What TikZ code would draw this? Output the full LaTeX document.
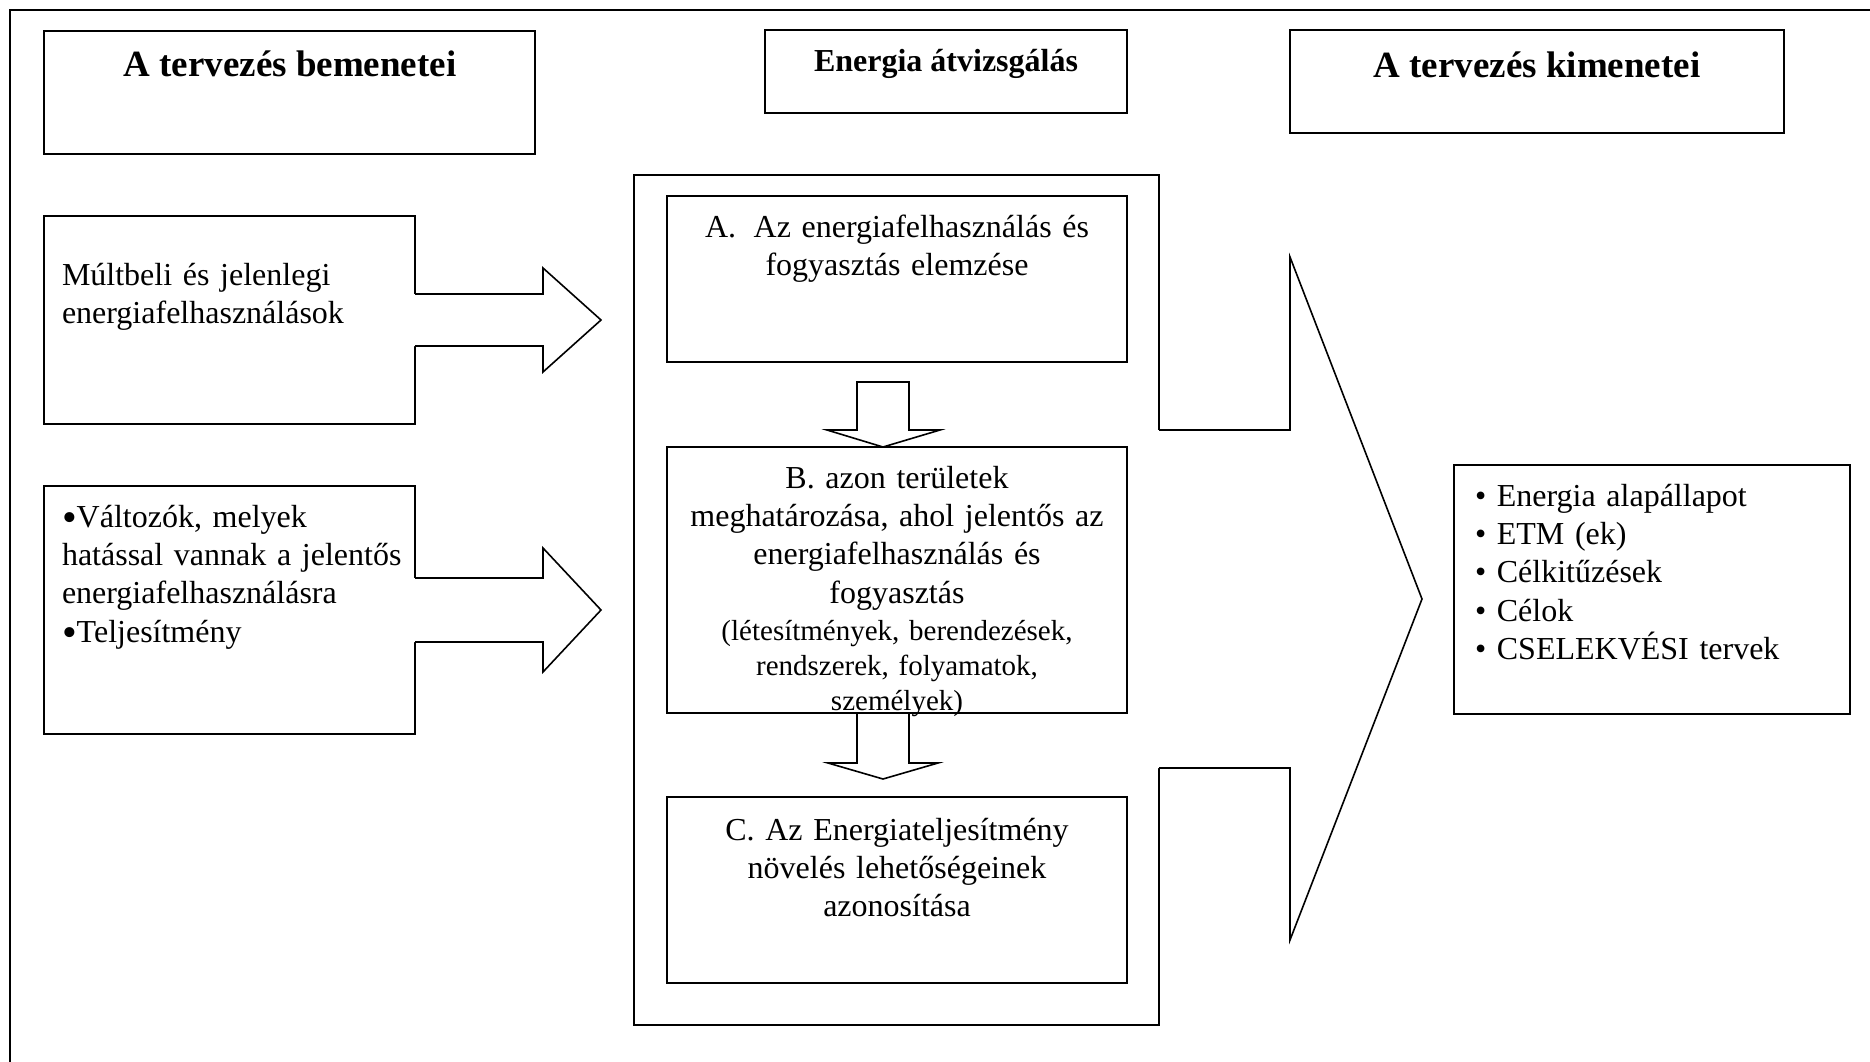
\documentclass[tikz,border=0pt]{standalone}
\usepackage{fontspec}
\setmainfont{Liberation Serif}
\usetikzlibrary{fit}
\newcommand\bodyf{\fontsize{16pt}{19.2pt}\selectfont}
\newcommand\titlef{\fontsize{18.5pt}{22pt}\selectfont\bfseries}
\newcommand\midtitlef{\fontsize{16pt}{19.2pt}\selectfont\bfseries}
\newcommand\smallf{\fontsize{14.5pt}{17.5pt}\selectfont}
\newcommand\bigbul{\raisebox{-2.2pt}{\fontsize{21pt}{19.2pt}\selectfont•}}
\begin{document}
\begin{tikzpicture}[x=0.5pt,y=-0.5pt,
  boxst/.style={draw, line width=1.1pt, inner sep=0pt, outer sep=0pt},
  frameline/.style={draw, line width=1pt},
  arrowline/.style={draw, line width=0.8pt, line join=miter},
  txt/.style={inner sep=0pt, outer sep=0pt},
  paracenter/.style={txt, text width=#1, align=center, anchor=base},
  paraleft/.style={txt, text width=#1, align=left, anchor=base west}]
\useasboundingbox (0,0) rectangle (1870,1061);
% outer frame (right and bottom sides lie outside the picture)
\draw[frameline] (10,1080) -- (10,10) -- (1890,10);

% header boxes
\node[boxst, fit={(44,31) (535,154)}] (b1) {};
\node[boxst, fit={(765,30) (1127,113)}] (b2) {};
\node[boxst, fit={(1290,30) (1784,133)}] (b3) {};

% input boxes
\node[boxst, fit={(44,216) (415,424)}] (m1) {};
\node[boxst, fit={(44,486) (415,734)}] (m2) {};

% middle frame and steps
\node[boxst, fit={(634,175) (1159,1025)}] (mo) {};
\node[boxst, fit={(667,196) (1127,362)}] (bA) {};
\node[boxst, fit={(667,447) (1127,713)}] (bB) {};
\node[boxst, fit={(667,797) (1127,983)}] (bC) {};

% output box
\node[boxst, fit={(1454,465) (1850,714)}] (out) {};

% block arrow 1
\coordinate (tip1) at (601,320);
\fill[white] (410,294) -- (543,294) -- (543,268) -- (tip1) -- (543,372) -- (543,346) -- (410,346) -- cycle;
\draw[arrowline] (m1.east |- 0,294) -- (543,294) -- (543,268) -- (tip1) -- (543,372) -- (543,346) -- (m1.east |- 0,346);

% block arrow 2
\coordinate (tip2) at (601,610);
\fill[white] (410,578) -- (543,578) -- (543,548) -- (tip2) -- (543,672) -- (543,642) -- (410,642) -- cycle;
\draw[arrowline] (m2.east |- 0,578) -- (543,578) -- (543,548) -- (tip2) -- (543,672) -- (543,642) -- (m2.east |- 0,642);

% small down arrow A -> B
\draw[arrowline] (857,382) -- (909,382) -- (909,430) -- (940,430) -- (bB.north -| 883,0) -- (827,430) -- (857,430) -- cycle;

% small down arrow B -> C
\coordinate (tip4) at (883,779);
\draw[arrowline] (bB.south -| 857,0) -- (857,763) -- (828,763) -- (tip4) -- (938,763) -- (909,763) -- (bB.south -| 909,0);

% big block arrow to outputs
\coordinate (tip3) at (1422,599);
\fill[white] (1155,430) -- (1290,430) -- (1290,257) -- (tip3) -- (1290,940) -- (1290,768) -- (1155,768) -- cycle;
\draw[arrowline] (mo.east |- 0,430) -- (1290,430) -- (1290,257) -- (tip3) -- (1290,940) -- (1290,768) -- (mo.east |- 0,768);

% texts
\node[txt, anchor=base, font=\titlef] (t1) at (290,76) {A tervezés bemenetei};
\node[txt, anchor=base, font=\midtitlef] (t2) at (946,71) {Energia átvizsgálás};
\node[txt, anchor=base, font=\titlef] (t3) at (1537,77) {A tervezés kimenetei};

\node[paraleft=180pt, font=\bodyf] (tm1) at (62,285) {Múltbeli és jelenlegi\\energiafelhasználások};
\node[paraleft=180pt, font=\bodyf] (tm2) at (62,527) {\bigbul Változók, melyek\\hatással vannak a jelentős\\energiafelhasználásra\\\bigbul Teljesítmény};

\node[paracenter=222pt, font=\bodyf] (tA) at (897,237) {A.\hspace{0.55em}Az energiafelhasználás és\\fogyasztás elemzése};
\node[paracenter=222pt, font=\bodyf] (tB1) at (897,488) {B. azon területek\\meghatározása, ahol jelentős az\\energiafelhasználás és\\fogyasztás};
\node[paracenter=222pt, font=\smallf] (tB2) at (897,640) {(létesítmények, berendezések,\\rendszerek, folyamatok,\\személyek)};
\node[paracenter=222pt, font=\bodyf] (tC) at (897,840) {C. Az Energiateljesítmény\\növelés lehetőségeinek\\azonosítása};

\node[paraleft=185pt, font=\bodyf] (tout) at (1475,506) {• Energia alapállapot\\• ETM (ek)\\• Célkitűzések\\• Célok\\• CSELEKVÉSI tervek};
\end{tikzpicture}
\end{document}
